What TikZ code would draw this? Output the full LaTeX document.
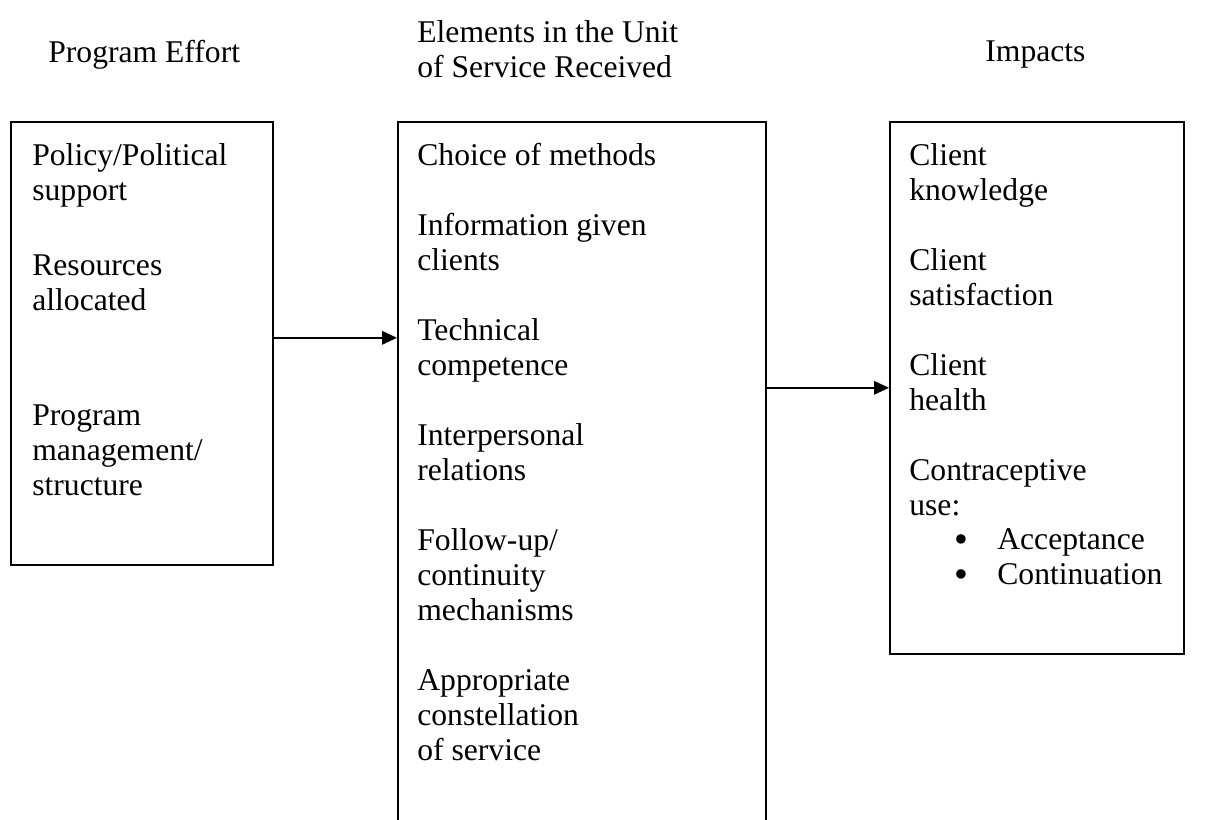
\documentclass[tikz,border=0pt]{standalone}
\usepackage{fontspec}
\setmainfont{Liberation Serif}
\usetikzlibrary{arrows.meta, positioning, calc}

\newcommand{\dotmark}{\raisebox{-0.08em}{\scalebox{1.25}{•}}}

\begin{document}
\begin{tikzpicture}[
    x=0.02cm, y=-0.02cm,
    box/.style={draw, line width=1pt, anchor=north west, inner sep=0pt},
    entry/.style={anchor=north west, align=left, inner sep=0pt, font=\fontsize{18pt}{19.9pt}\selectfont},
    arrow/.style={-{Triangle[length=0.3cm,width=0.27cm]}, line width=1pt}
]
    \useasboundingbox (0,0) rectangle (1223,820);

    % Headings
    \node[entry] (effortHead) at (48,40) {Program Effort};
    \node[entry] (elementsHead) at (417,20) {Elements in the Unit\\of Service Received};
    \node[entry] (impactsHead) at (985,40) {Impacts};

    % Boxes
    \node[box, minimum width=5.24cm, minimum height=8.86cm] (effort) at (10,121) {};
    \node[box, minimum width=7.36cm, minimum height=14.3cm] (elements) at (397,121) {};
    \node[box, minimum width=5.88cm, minimum height=10.64cm] (impacts) at (889,121) {};

    % Box contents
    \node[entry] (effortText) at (32,143) {Policy/Political\\support\\[0.8cm]Resources\\allocated\\[1.6cm]Program\\management/\\structure};
    \node[entry] (elementsText) at (417,143) {Choice of methods\\[0.7cm]Information given\\clients\\[0.7cm]Technical\\competence\\[0.7cm]Interpersonal\\relations\\[0.7cm]Follow-up/\\continuity\\mechanisms\\[0.7cm]Appropriate\\constellation\\of service};
    \node[entry] (impactsText) at (909,143) {Client\\knowledge\\[0.7cm]Client\\satisfaction\\[0.7cm]Client\\health\\[0.7cm]Contraceptive\\use:\\\hspace*{0.9cm}\makebox[0.86cm][l]{\dotmark}Acceptance\\\hspace*{0.9cm}\makebox[0.86cm][l]{\dotmark}Continuation};

    % Arrows
    \draw[arrow] ([yshift=0.11cm]effort.east) -- ([yshift=0.11cm]effort.east -| elements.west);
    \draw[arrow] (impacts.west -| elements.east) -- (impacts.west);
\end{tikzpicture}
\end{document}
